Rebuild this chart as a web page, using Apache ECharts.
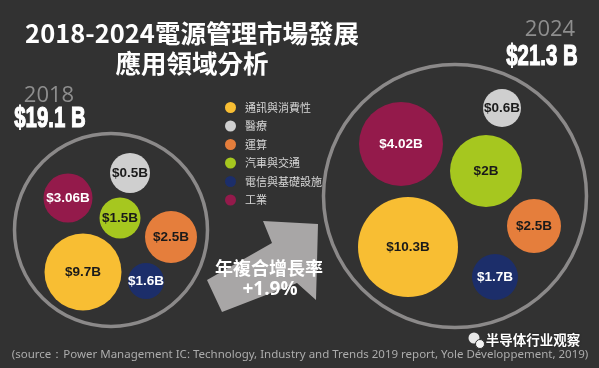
<!DOCTYPE html>
<html>
<head>
<meta charset="utf-8">
<script src="https://cdn.jsdelivr.net/npm/echarts@6/dist/echarts.min.js"></script>
<style>
html,body{margin:0;padding:0;background:#323232;}
#chart{width:599px;height:368px;}
</style>
</head>
<body>
<div id="chart"></div>
<script>
// ---- data ----
const categories = ['通訊與消費性', '醫療', '運算', '汽車與交通', '電信與基礎設施', '工業'];
const values2018 = [9.7, 0.5, 2.5, 1.5, 1.6, 3.06];
const values2024 = [10.3, 0.6, 2.5, 2, 1.7, 4.02];
const years = ['2018', '2024'];
const totals = ['$19.1 B', '$21.3 B'];
const cagr = '+1.9%';
const titleLines = ['2018-2024電源管理市場發展', '應用領域分析'];
const sourceText = '(source：Power Management IC: Technology, Industry and Trends 2019 report, Yole Développement, 2019)';

// ---- layout (bubble-pack placement in canvas units, diameter) ----
const layout2018 = [[83, 272, 77], [130, 173, 40], [171, 237, 52], [120, 218, 41], [146, 281, 36], [68, 198, 49]];
const layout2024 = [[408, 247, 100], [502, 108, 38], [534, 226, 54], [486, 171, 72], [495, 277, 46], [401, 144, 84]];
const ringLayout = [[111, 230, 193], [455, 196, 263]];

// ---- style ----
const colors = ['#F8BE33', '#CFCFCF', '#E57E3C', '#A6C71F', '#1C2E6A', '#941A4B'];
const labelColors = ['#1a1a1a', '#1a1a1a', '#1a1a1a', '#1a1a1a', '#ffffff', '#ffffff'];
const cjk = '"Noto Sans CJK TC", "Noto Sans CJK SC", sans-serif';
const sansB = '"Liberation Sans", Arial, sans-serif';

const chart = echarts.init(document.getElementById('chart'));

const series = categories.map(function (name, i) {
  return {
    name: name,
    type: 'scatter',
    silent: true,
    z: 3,
    data: [
      { value: [layout2018[i][0], layout2018[i][1], values2018[i]], symbolSize: layout2018[i][2] },
      { value: [layout2024[i][0], layout2024[i][1], values2024[i]], symbolSize: layout2024[i][2] }
    ],
    itemStyle: { color: colors[i], opacity: 1 },
    label: {
      show: true,
      position: 'inside',
      formatter: function (p) { return '$' + p.value[2] + 'B'; },
      color: labelColors[i],
      fontFamily: sansB,
      fontWeight: 'bold',
      fontSize: 13.5
    }
  };
});

series.unshift({
  name: 'ring',
  type: 'scatter',
  silent: true,
  z: 2,
  data: ringLayout.map(function (r) { return { value: [r[0], r[1]], symbolSize: r[2] }; }),
  itemStyle: { color: 'rgba(0,0,0,0)', borderColor: '#a19f9f', borderWidth: 3.5 },
  label: { show: false }
});

const option = {
  backgroundColor: '#323232',
  animation: false,
  grid: { left: 0, right: 0, top: 0, bottom: 0 },
  xAxis: { type: 'value', min: 0, max: 599, show: false },
  yAxis: { type: 'value', min: 0, max: 368, inverse: true, show: false },
  legend: {
    data: categories.map(function (c) { return { name: c, icon: 'circle' }; }),
    orient: 'vertical',
    left: 220,
    top: 97,
    itemWidth: 11,
    itemHeight: 11,
    itemGap: 7.5,
    selectedMode: false,
    textStyle: { color: '#d6d6d6', fontSize: 11, fontFamily: cjk, padding: [0, 0, 0, 4] }
  },
  series: series,
  graphic: [
    { type: 'text', x: 192, y: 33, style: { text: titleLines[0], fill: '#ffffff', font: 'bold 25.5px ' + cjk, textAlign: 'center', textVerticalAlign: 'middle' } },
    { type: 'text', x: 192, y: 63, style: { text: titleLines[1], fill: '#ffffff', font: 'bold 25.5px ' + cjk, textAlign: 'center', textVerticalAlign: 'middle' } },
    { type: 'text', x: 49, y: 96, style: { text: years[0], fill: '#8e8e8e', font: '22px "Open Sans", sans-serif', textAlign: 'center', textVerticalAlign: 'middle' } },
    { type: 'text', x: 50, y: 119, scaleX: 0.68, style: { text: totals[0], fill: '#ffffff', stroke: '#ffffff', lineWidth: 1.2, font: 'bold 30px ' + sansB, textAlign: 'center', textVerticalAlign: 'middle' } },
    { type: 'text', x: 550, y: 30, style: { text: years[1], fill: '#8e8e8e', font: '22px "Open Sans", sans-serif', textAlign: 'center', textVerticalAlign: 'middle' } },
    { type: 'text', x: 542, y: 57, scaleX: 0.68, style: { text: totals[1], fill: '#ffffff', stroke: '#ffffff', lineWidth: 1.2, font: 'bold 30px ' + sansB, textAlign: 'center', textVerticalAlign: 'middle' } },
    {
      type: 'polygon', z: 1,
      shape: { points: [[207, 280], [272, 243], [263, 221], [318, 224], [316, 300], [297, 283], [222, 312]] },
      style: { fill: '#a8a6a6' }
    },
    { type: 'text', z: 5, x: 269, y: 268, style: { text: '年複合增長率', fill: '#ffffff', font: 'bold 18px ' + cjk, textAlign: 'center', textVerticalAlign: 'middle' } },
    { type: 'text', z: 5, x: 270, y: 290, style: { text: cagr, fill: '#ffffff', font: 'bold 19px "Open Sans", sans-serif', textAlign: 'center', textVerticalAlign: 'middle' } },
    { type: 'text', z: 5, x: 300, y: 355, style: { text: sourceText, fill: '#acacac', font: '11.5px "Noto Sans", sans-serif', textAlign: 'center', textVerticalAlign: 'middle' } },
    { type: 'circle', z: 6, shape: { cx: 474, cy: 338, r: 5.5 }, style: { fill: '#e8e8e8' } },
    { type: 'circle', z: 6, shape: { cx: 480, cy: 344, r: 4.5 }, style: { fill: '#f4f4f4', stroke: '#323232', lineWidth: 1 } },
    { type: 'text', z: 6, x: 533, y: 340, style: { text: '半导体行业观察', fill: '#ffffff', font: 'bold 13.5px "Noto Sans CJK SC", sans-serif', textAlign: 'center', textVerticalAlign: 'middle', textShadowColor: 'rgba(0,0,0,0.6)', textShadowBlur: 2 } }
  ]
};
chart.setOption(option);
</script>
</body>
</html>
